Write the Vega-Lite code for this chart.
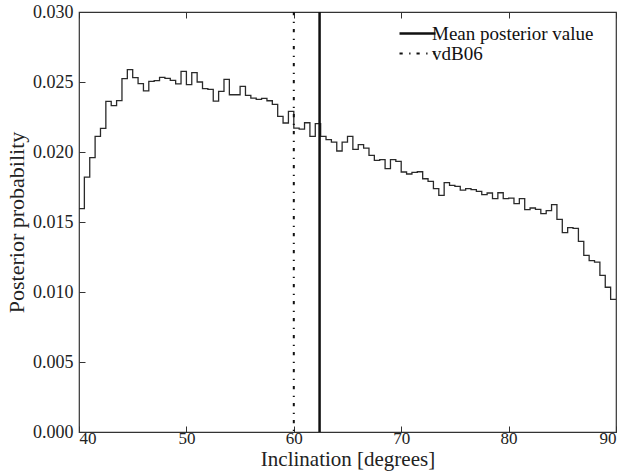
{
  "$schema": "https://vega.github.io/schema/vega-lite/v6.json",
  "autosize": {"type": "none"},
  "width": 537,
  "height": 420,
  "padding": {"left": 79, "top": 12, "right": 11, "bottom": 42},
  "background": "white",
  "config": {
    "view": {"stroke": "#333", "strokeWidth": 1.2},
    "font": "Liberation Serif",
    "axis": {
      "grid": false,
      "domain": false,
      "tickColor": "#333",
      "tickSize": -6,
      "tickWidth": 1,
      "labelPadding": 12,
      "labelFont": "Liberation Serif",
      "labelFontSize": 18,
      "labelColor": "#222",
      "titleFont": "Liberation Serif",
      "titleFontSize": 22,
      "titleFontWeight": "normal",
      "titleColor": "#222"
    },
    "legend": {
      "labelFont": "Liberation Serif",
      "labelFontSize": 19,
      "labelColor": "#111"
    }
  },
  "datasets": {
    "hist": [
      {"inc": 40.0, "p": 0.01595}, {"inc": 40.5, "p": 0.01821}, {"inc": 41.0, "p": 0.0196}, {"inc": 41.5, "p": 0.02112}, {"inc": 42.0, "p": 0.02169},
      {"inc": 42.5, "p": 0.02362}, {"inc": 43.0, "p": 0.02331}, {"inc": 43.5, "p": 0.02367}, {"inc": 44.0, "p": 0.02524}, {"inc": 44.5, "p": 0.02588},
      {"inc": 45.0, "p": 0.02531}, {"inc": 45.5, "p": 0.02488}, {"inc": 46.0, "p": 0.02436}, {"inc": 46.5, "p": 0.02505}, {"inc": 47.0, "p": 0.0251},
      {"inc": 47.5, "p": 0.02533}, {"inc": 48.0, "p": 0.02526}, {"inc": 48.5, "p": 0.02512}, {"inc": 49.0, "p": 0.02486}, {"inc": 49.5, "p": 0.02576},
      {"inc": 50.0, "p": 0.02481}, {"inc": 50.5, "p": 0.02567}, {"inc": 51.0, "p": 0.025}, {"inc": 51.5, "p": 0.02452}, {"inc": 52.0, "p": 0.02447},
      {"inc": 52.5, "p": 0.02364}, {"inc": 53.0, "p": 0.02433}, {"inc": 53.5, "p": 0.02519}, {"inc": 54.0, "p": 0.02409}, {"inc": 54.5, "p": 0.02409},
      {"inc": 55.0, "p": 0.02469}, {"inc": 55.5, "p": 0.02404}, {"inc": 56.0, "p": 0.02385}, {"inc": 56.5, "p": 0.02376}, {"inc": 57.0, "p": 0.02383},
      {"inc": 57.5, "p": 0.02366}, {"inc": 58.0, "p": 0.0234}, {"inc": 58.5, "p": 0.02254}, {"inc": 59.0, "p": 0.02207}, {"inc": 59.5, "p": 0.0229},
      {"inc": 60.0, "p": 0.02171}, {"inc": 60.5, "p": 0.02164}, {"inc": 61.0, "p": 0.02209}, {"inc": 61.5, "p": 0.02112}, {"inc": 62.0, "p": 0.02202},
      {"inc": 62.5, "p": 0.02112}, {"inc": 63.0, "p": 0.02088}, {"inc": 63.5, "p": 0.02071}, {"inc": 64.0, "p": 0.02007}, {"inc": 64.5, "p": 0.02071},
      {"inc": 65.0, "p": 0.02112}, {"inc": 65.5, "p": 0.02019}, {"inc": 66.0, "p": 0.02052}, {"inc": 66.5, "p": 0.02028}, {"inc": 67.0, "p": 0.01976},
      {"inc": 67.5, "p": 0.0194}, {"inc": 68.0, "p": 0.01945}, {"inc": 68.5, "p": 0.01881}, {"inc": 69.0, "p": 0.01945}, {"inc": 69.5, "p": 0.01933},
      {"inc": 70.0, "p": 0.01857}, {"inc": 70.5, "p": 0.01843}, {"inc": 71.0, "p": 0.01855}, {"inc": 71.5, "p": 0.01859}, {"inc": 72.0, "p": 0.01809},
      {"inc": 72.5, "p": 0.0179}, {"inc": 73.0, "p": 0.01738}, {"inc": 73.5, "p": 0.0169}, {"inc": 74.0, "p": 0.01781}, {"inc": 74.5, "p": 0.01762},
      {"inc": 75.0, "p": 0.01755}, {"inc": 75.5, "p": 0.01728}, {"inc": 76.0, "p": 0.01738}, {"inc": 76.5, "p": 0.01731}, {"inc": 77.0, "p": 0.01719},
      {"inc": 77.5, "p": 0.01695}, {"inc": 78.0, "p": 0.01707}, {"inc": 78.5, "p": 0.01667}, {"inc": 79.0, "p": 0.01709}, {"inc": 79.5, "p": 0.01667},
      {"inc": 80.0, "p": 0.01671}, {"inc": 80.5, "p": 0.01631}, {"inc": 81.0, "p": 0.01667}, {"inc": 81.5, "p": 0.01588}, {"inc": 82.0, "p": 0.016},
      {"inc": 82.5, "p": 0.0159}, {"inc": 83.0, "p": 0.0156}, {"inc": 83.5, "p": 0.01581}, {"inc": 84.0, "p": 0.01624}, {"inc": 84.5, "p": 0.01519},
      {"inc": 85.0, "p": 0.01424}, {"inc": 85.5, "p": 0.0146}, {"inc": 86.0, "p": 0.01455}, {"inc": 86.5, "p": 0.01362}, {"inc": 87.0, "p": 0.01262},
      {"inc": 87.5, "p": 0.01224}, {"inc": 88.0, "p": 0.01214}, {"inc": 88.5, "p": 0.01119}, {"inc": 89.0, "p": 0.01034}, {"inc": 89.5, "p": 0.00948},
      {"inc": 90.0, "p": 0.00948}
    ],
    "vlines": [
      {"name": "Mean posterior value", "inc": 62.4},
      {"name": "vdB06", "inc": 60.0}
    ]
  },
  "layer": [
    {
      "data": {"name": "hist"},
      "mark": {"type": "line", "interpolate": "step-after", "color": "#2a2a2a", "strokeWidth": 1.3, "clip": true},
      "encoding": {
        "x": {
          "field": "inc", "type": "quantitative",
          "scale": {"domain": [40, 90], "nice": false, "zero": false},
          "axis": {"orient": "bottom", "values": [40, 50, 60, 70, 80, 90], "format": "d", "labelFontSize": 17, "labelPadding": 4, "title": "Inclination [degrees]", "titleFontSize": 21, "titlePadding": 2}
        },
        "y": {
          "field": "p", "type": "quantitative",
          "scale": {"domain": [0, 0.03], "nice": false},
          "axis": {"orient": "left", "values": [0, 0.005, 0.01, 0.015, 0.02, 0.025, 0.03], "format": ".3f", "title": "Posterior probability", "titlePadding": 4}
        }
      }
    },
    {
      "data": {"name": "vlines"},
      "mark": {"type": "rule", "color": "#111"},
      "encoding": {
        "x": {
          "field": "inc", "type": "quantitative",
          "axis": {"orient": "top", "values": [40, 50, 60, 70, 80, 90], "labels": false, "title": null}
        },
        "strokeDash": {
          "field": "name", "type": "nominal",
          "scale": {"domain": ["Mean posterior value", "vdB06"], "range": [[1, 0], [3.2, 6.5, 1.3, 6]]},
          "legend": {
            "title": null,
            "orient": "none",
            "legendX": 329,
            "legendY": 12,
            "symbolType": "M-3.6,0H3.6",
            "symbolSize": 100,
            "symbolFillColor": "transparent",
            "symbolStrokeColor": "#111",
            "symbolStrokeWidth": 2,
            "labelOffset": 5,
            "labelLimit": 0,
            "rowPadding": 0,
            "padding": 0
          }
        },
        "strokeWidth": {
          "field": "name", "type": "nominal",
          "scale": {"domain": ["Mean posterior value", "vdB06"], "range": [2.5, 2]},
          "legend": null
        }
      }
    }
  ],
  "resolve": {"axis": {"x": "independent", "y": "independent"}}
}
